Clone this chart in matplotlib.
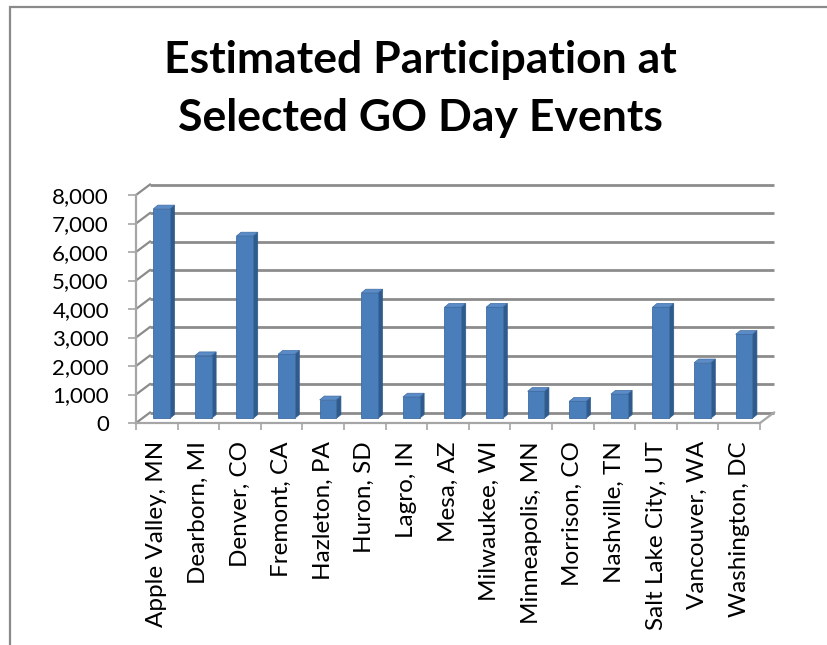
import matplotlib
matplotlib.use("Agg")
import matplotlib.pyplot as plt
from matplotlib.patches import Polygon, Rectangle

# ---- data ----
cities = ["Apple Valley, MN", "Dearborn, MI", "Denver, CO", "Fremont, CA",
          "Hazleton, PA", "Huron, SD", "Lagro, IN", "Mesa, AZ", "Milwaukee, WI",
          "Minneapolis, MN", "Morrison, CO", "Nashville, TN", "Salt Lake City, UT",
          "Vancouver, WA", "Washington, DC"]
participants = [7350, 2200, 6400, 2250, 650, 4400, 750, 3900, 3900,
                950, 600, 850, 3900, 1950, 2950]
yticks = [0, 1000, 2000, 3000, 4000, 5000, 6000, 7000, 8000]
title = "Estimated Participation at\nSelected GO Day Events"

plt.rcParams["font.family"] = ["Lato", "DejaVu Sans"]

W, H = 827, 645
fig = plt.figure(figsize=(W / 100, H / 100), dpi=100)
fig.patch.set_facecolor("white")

# chart-area border (extends beyond right/bottom edges)
fig.patches.append(Rectangle((10 / W, -0.2), 1.2, 0.2 + (H - 7) / H,
                             transform=fig.transFigure, fill=False,
                             ec="#8a8a8a", lw=1.6))

fig.text(420 / W, 1 - 89 / H, title, ha="center", va="center",
         fontsize=32, fontweight="bold", linespacing=1.55, color="black")

# front plane of the plot area
x0, x1, y0, y1 = 136, 760, 423, 195
ax = fig.add_axes([x0 / W, (H - y0) / H, (x1 - x0) / W, (y0 - y1) / H])
n = len(cities)
ax.set_xlim(-0.5, n - 0.5)
ax.set_ylim(0, yticks[-1])
ax.patch.set_visible(False)
for s in ax.spines.values():
    s.set_visible(False)

cx = n / (x1 - x0)            # categories per pixel
cy = yticks[-1] / (y0 - y1)   # value per pixel

# wall depth offsets
DX, DY = 14 * cx, 10.5 * cy
gcol = "#8c8c8c"
for v in yticks:
    ax.plot([-0.5 + DX, n - 0.5 + DX], [v + DY, v + DY], color=gcol, lw=2.0,
            clip_on=False, zorder=1, solid_capstyle="butt")
    ax.plot([-0.5, -0.5 + DX], [v, v + DY], color=gcol, lw=1.6,
            clip_on=False, zorder=1)
# floor front and right edges
ax.plot([-0.5, n - 0.5], [0, 0], color="#a6a6a6", lw=1.6, clip_on=False, zorder=1)
ax.plot([n - 0.5, n - 0.5 + DX], [0, DY], color="#a6a6a6", lw=1.6, clip_on=False, zorder=1)
# value axis line
ax.plot([-0.5, -0.5], [0, yticks[-1]], color="#a6a6a6", lw=1.6, clip_on=False, zorder=1)

# bars: front face via ax.bar, side and top faces as polygons
fx, fy = 4.8 * cx, 4.6 * cy      # front-face offset into the depth
bx, by = 4.6 * cx, 3.8 * cy      # bar depth
bw = 0.4
front = "#4A7EBB"
side = "#2F5A8C"
top = "#5B8CC8"
xs = [i + fx for i in range(n)]
ax.bar(xs, participants, width=bw, bottom=fy, color=front,
       edgecolor="#3E6CA3", lw=0.6, zorder=3)
for x, v in zip(xs, participants):
    xl, xr = x - bw / 2, x + bw / 2
    ax.add_patch(Polygon([(xr, fy), (xr + bx, fy + by), (xr + bx, v + fy + by), (xr, v + fy)],
                         closed=True, fc=side, ec=side, lw=0.5, zorder=2, clip_on=False))
    ax.add_patch(Polygon([(xl, v + fy), (xl + bx, v + fy + by), (xr + bx, v + fy + by), (xr, v + fy)],
                         closed=True, fc=top, ec="#3E6CA3", lw=0.5, zorder=2, clip_on=False))

# ticks and labels
ax.set_xticks(range(n))
ax.set_xticklabels(cities, rotation=90, fontsize=17.5, va="top", ha="center")
ax.set_xticks([i - 0.5 for i in range(n + 1)], minor=True)
ax.tick_params(axis="x", which="major", length=0, pad=13)
ax.tick_params(axis="x", which="minor", length=5, width=1.2, color="#a6a6a6", direction="out")
ax.set_yticks(yticks)
ax.set_yticklabels([f"{v:,}" for v in yticks], fontsize=16)
ax.tick_params(axis="y", length=5.5, width=1.2, color="#a6a6a6", pad=14, direction="out")

fig.savefig("out.png", dpi=100, facecolor="white")
